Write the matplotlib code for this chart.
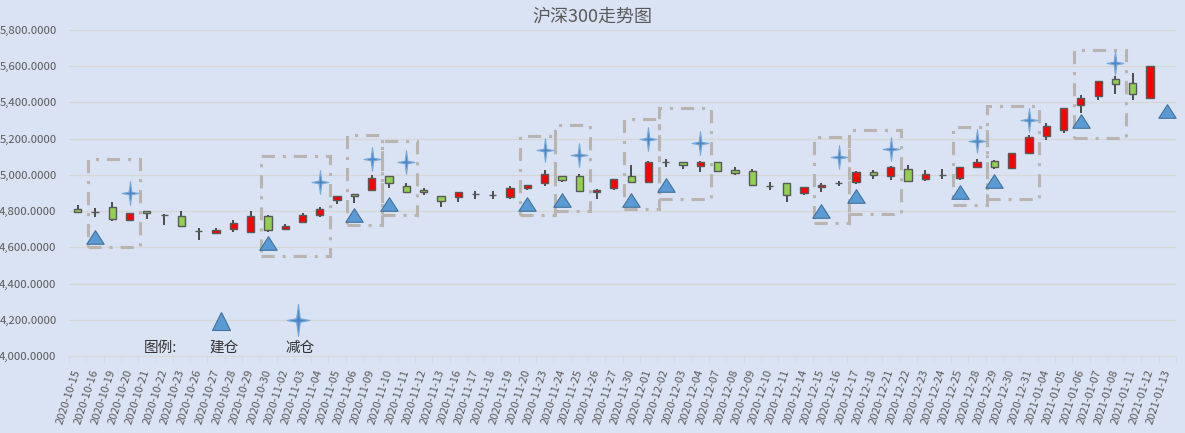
import numpy as np
import matplotlib.pyplot as plt
from matplotlib.path import Path
from matplotlib.patches import Rectangle

plt.rcParams['font.family'] = ['Noto Sans CJK SC', 'DejaVu Sans']
plt.rcParams['axes.unicode_minus'] = False

# 日K数据
dates = ['2020-10-15', '2020-10-16', '2020-10-19', '2020-10-20', '2020-10-21', '2020-10-22',
         '2020-10-23', '2020-10-26', '2020-10-27', '2020-10-28', '2020-10-29', '2020-10-30',
         '2020-11-02', '2020-11-03', '2020-11-04', '2020-11-05', '2020-11-06', '2020-11-09',
         '2020-11-10', '2020-11-11', '2020-11-12', '2020-11-13', '2020-11-16', '2020-11-17',
         '2020-11-18', '2020-11-19', '2020-11-20', '2020-11-23', '2020-11-24', '2020-11-25',
         '2020-11-26', '2020-11-27', '2020-11-30', '2020-12-01', '2020-12-02', '2020-12-03',
         '2020-12-04', '2020-12-07', '2020-12-08', '2020-12-09', '2020-12-10', '2020-12-11',
         '2020-12-14', '2020-12-15', '2020-12-16', '2020-12-17', '2020-12-18', '2020-12-21',
         '2020-12-22', '2020-12-23', '2020-12-24', '2020-12-25', '2020-12-28', '2020-12-29',
         '2020-12-30', '2020-12-31', '2021-01-04', '2021-01-05', '2021-01-06', '2021-01-07',
         '2021-01-08', '2021-01-11', '2021-01-12', '2021-01-13']
opens = [4811, 4794, 4822, 4750, 4800, 4778, 4772, 4689, 4678, 4700, 4683, 4772,
         4700, 4739, 4778, 4861, 4894, 4917, 4994, 4939, 4919, 4883, 4876, 4896,
         4887, 4876, 4928, 4956, 4994, 4994, 4906, 4928, 4994, 4961, 5072, 5069,
         5050, 5069, 5028, 5022, 4939, 4956, 4900, 4933, 4954, 4961, 5017, 4994,
         5033, 4978, 5002, 4983, 5044, 5074, 5039, 5122, 5217, 5250, 5387, 5433,
         5528, 5506, 5422, np.nan]
highs = [4833, 4818, 4848, 4789, 4800, 4785, 4800, 4709, 4704, 4750, 4800, 4778,
         4731, 4789, 4822, 4883, 4894, 5000, 4994, 4956, 4930, 4883, 4906, 4913,
         4913, 4939, 4944, 5028, 4994, 5007, 4924, 4978, 5056, 5074, 5085, 5069,
         5074, 5069, 5044, 5033, 4963, 4956, 4933, 4956, 4967, 5022, 5028, 5050,
         5056, 5028, 5033, 5044, 5089, 5080, 5119, 5220, 5289, 5372, 5441, 5517,
         5548, 5563, 5600, np.nan]
lows = [4794, 4767, 4748, 4743, 4756, 4724, 4717, 4641, 4672, 4683, 4678, 4687,
        4700, 4733, 4767, 4839, 4844, 4917, 4928, 4906, 4891, 4822, 4850, 4867,
        4867, 4867, 4919, 4939, 4959, 4911, 4867, 4915, 4961, 4961, 5046, 5033,
        5017, 5017, 5000, 4944, 4915, 4850, 4889, 4906, 4939, 4952, 4978, 4972,
        4961, 4967, 4978, 4972, 5039, 5033, 5039, 5122, 5194, 5231, 5344, 5415,
        5444, 5415, 5422, np.nan]
closes = [4794, 4794, 4756, 4789, 4789, 4778, 4717, 4689, 4696, 4733, 4772, 4694,
          4717, 4778, 4811, 4883, 4883, 4981, 4955, 4906, 4906, 4856, 4906, 4896,
          4887, 4928, 4944, 5006, 4972, 4911, 4919, 4978, 4961, 5069, 5072, 5056,
          5069, 5022, 5011, 4944, 4939, 4889, 4933, 4944, 4954, 5017, 5000, 5044,
          4967, 5006, 5002, 5044, 5069, 5044, 5119, 5211, 5270, 5370, 5422, 5517,
          5500, 5444, 5600, np.nan]

# 建仓 / 减仓 标记
buy_dates = ['2020-10-16', '2020-10-30', '2020-11-06', '2020-11-10', '2020-11-20', '2020-11-24',
             '2020-11-30', '2020-12-02', '2020-12-15', '2020-12-17', '2020-12-25', '2020-12-29',
             '2021-01-06', '2021-01-13']
buy_values = [4659, 4624, 4778, 4841, 4841, 4863, 4863, 4946, 4798, 4881, 4903, 4965, 5298, 5353]
sell_dates = ['2020-10-20', '2020-11-04', '2020-11-09', '2020-11-11', '2020-11-23', '2020-11-25',
              '2020-12-01', '2020-12-04', '2020-12-16', '2020-12-21', '2020-12-28', '2020-12-31',
              '2021-01-08']
sell_values = [4898, 4959, 5085, 5072, 5137, 5109, 5200, 5178, 5098, 5144, 5185, 5302, 5617]

# 虚线框 (起止日期, 上下沿)
box_start = ['2020-10-16', '2020-10-30', '2020-11-06', '2020-11-10', '2020-11-20', '2020-11-24',
             '2020-11-30', '2020-12-02', '2020-12-15', '2020-12-17', '2020-12-25', '2020-12-29',
             '2021-01-06']
box_end = ['2020-10-20', '2020-11-04', '2020-11-09', '2020-11-11', '2020-11-23', '2020-11-25',
           '2020-12-01', '2020-12-04', '2020-12-16', '2020-12-21', '2020-12-28', '2020-12-31',
           '2021-01-08']
box_top = [5085, 5102, 5223, 5185, 5215, 5276, 5307, 5372, 5209, 5248, 5264, 5381, 5687]
box_bottom = [4600, 4552, 4723, 4779, 4779, 4802, 4814, 4868, 4733, 4783, 4833, 4868, 5205]

bg = '#DAE3F3'
txt = '#595959'

x = np.arange(len(dates))
o = np.array(opens, dtype=float)
h = np.array(highs, dtype=float)
l = np.array(lows, dtype=float)
c = np.array(closes, dtype=float)

fig = plt.figure(figsize=(11.85, 4.33), dpi=100, facecolor=bg)
ax = fig.add_axes([69 / 1185, 77 / 433, 1107 / 1185, 326 / 433])
ax.set_facecolor(bg)

# 影线
ax.vlines(x, l, h, color='#404040', linewidth=1.3, zorder=2)
# 实体: 红涨绿跌
colors = ['#FF0000' if cc > oo else '#92D050' for oo, cc in zip(o, c)]
ax.bar(x, np.abs(c - o), bottom=np.minimum(o, c), width=0.42, color=colors,
       edgecolor='#595959', linewidth=1.0, zorder=3)

# 标记形状
star = Path([(0, 1.4), (0.16, 0.16), (1, 0), (0.16, -0.16), (0, -1.4), (-0.16, -0.16),
             (-1, 0), (-0.16, 0.16), (0, 1.4)],
            [Path.MOVETO] + [Path.LINETO] * 7 + [Path.CLOSEPOLY])
tri = Path([(0, 0.78), (-1, -0.78), (1, -0.78), (0, 0.78)],
           [Path.MOVETO, Path.LINETO, Path.LINETO, Path.CLOSEPOLY])

bx = [dates.index(d) for d in buy_dates]
sx = [dates.index(d) for d in sell_dates]
ax.plot(bx, buy_values, linestyle='none', marker=tri, markersize=12.5,
        markerfacecolor='#5B9BD5', markeredgecolor='#41719C', markeredgewidth=0.8, zorder=5)
ax.plot(sx, sell_values, linestyle='none', marker=star, markersize=17,
        markerfacecolor='#4A86C6', markeredgecolor='#7AAAD8', markeredgewidth=0.8, zorder=5)

# 虚线框
for s, e, top, bot in zip(box_start, box_end, box_top, box_bottom):
    x0 = dates.index(s) - 0.4
    x1 = dates.index(e) + 0.6
    ax.add_patch(Rectangle((x0, bot), x1 - x0, top - bot, fill=False,
                           edgecolor='#B8B5B0', linewidth=2.2,
                           linestyle=(0, (4.3, 2.6, 1.0, 2.6)), zorder=4))

# 图例
ax.text(4.76, 4046, '图例:', fontsize=10.5, color='#333333', ha='center', va='center')
ax.plot([8.27], [4195], linestyle='none', marker='^', markersize=13.5,
        markerfacecolor='#5B9BD5', markeredgecolor='#41719C', markeredgewidth=0.8)
ax.text(8.46, 4046, '建仓', fontsize=10.5, color='#333333', ha='center', va='center')
ax.plot([12.74], [4200], linestyle='none', marker=star, markersize=23,
        markerfacecolor='#4A86C6', markeredgecolor='#7AAAD8', markeredgewidth=0.8)
ax.text(12.85, 4046, '减仓', fontsize=10.5, color='#333333', ha='center', va='center')

# 坐标轴
ax.set_xlim(-0.5, len(dates) - 0.5)
ax.set_ylim(4000, 5800)
ax.set_yticks(np.arange(4000, 5801, 200))
ax.set_yticklabels([f'{v:,.4f}' for v in np.arange(4000, 5801, 200)])
ax.set_xticks(x)
ax.set_xticklabels(dates, rotation=72, ha='right', va='center', rotation_mode='anchor')
ax.set_xticks(np.arange(-0.5, len(dates), 1), minor=True)
ax.tick_params(axis='x', which='major', length=0, pad=10, labelsize=8, labelcolor=txt)
ax.tick_params(axis='x', which='minor', length=4, color='#D9D9D9')
ax.tick_params(axis='y', length=0, pad=9, labelsize=8.2, labelcolor=txt)
ax.grid(axis='y', color='#D6D6D6', linewidth=0.9)
ax.set_axisbelow(True)
for sp in ['top', 'right', 'left']:
    ax.spines[sp].set_visible(False)
ax.spines['bottom'].set_color('#D9D9D9')

fig.text(0.5, 1 - 17 / 433, '沪深300走势图', fontsize=13, color=txt, ha='center', va='center')

fig.savefig('out.png', dpi=100, facecolor=bg)
